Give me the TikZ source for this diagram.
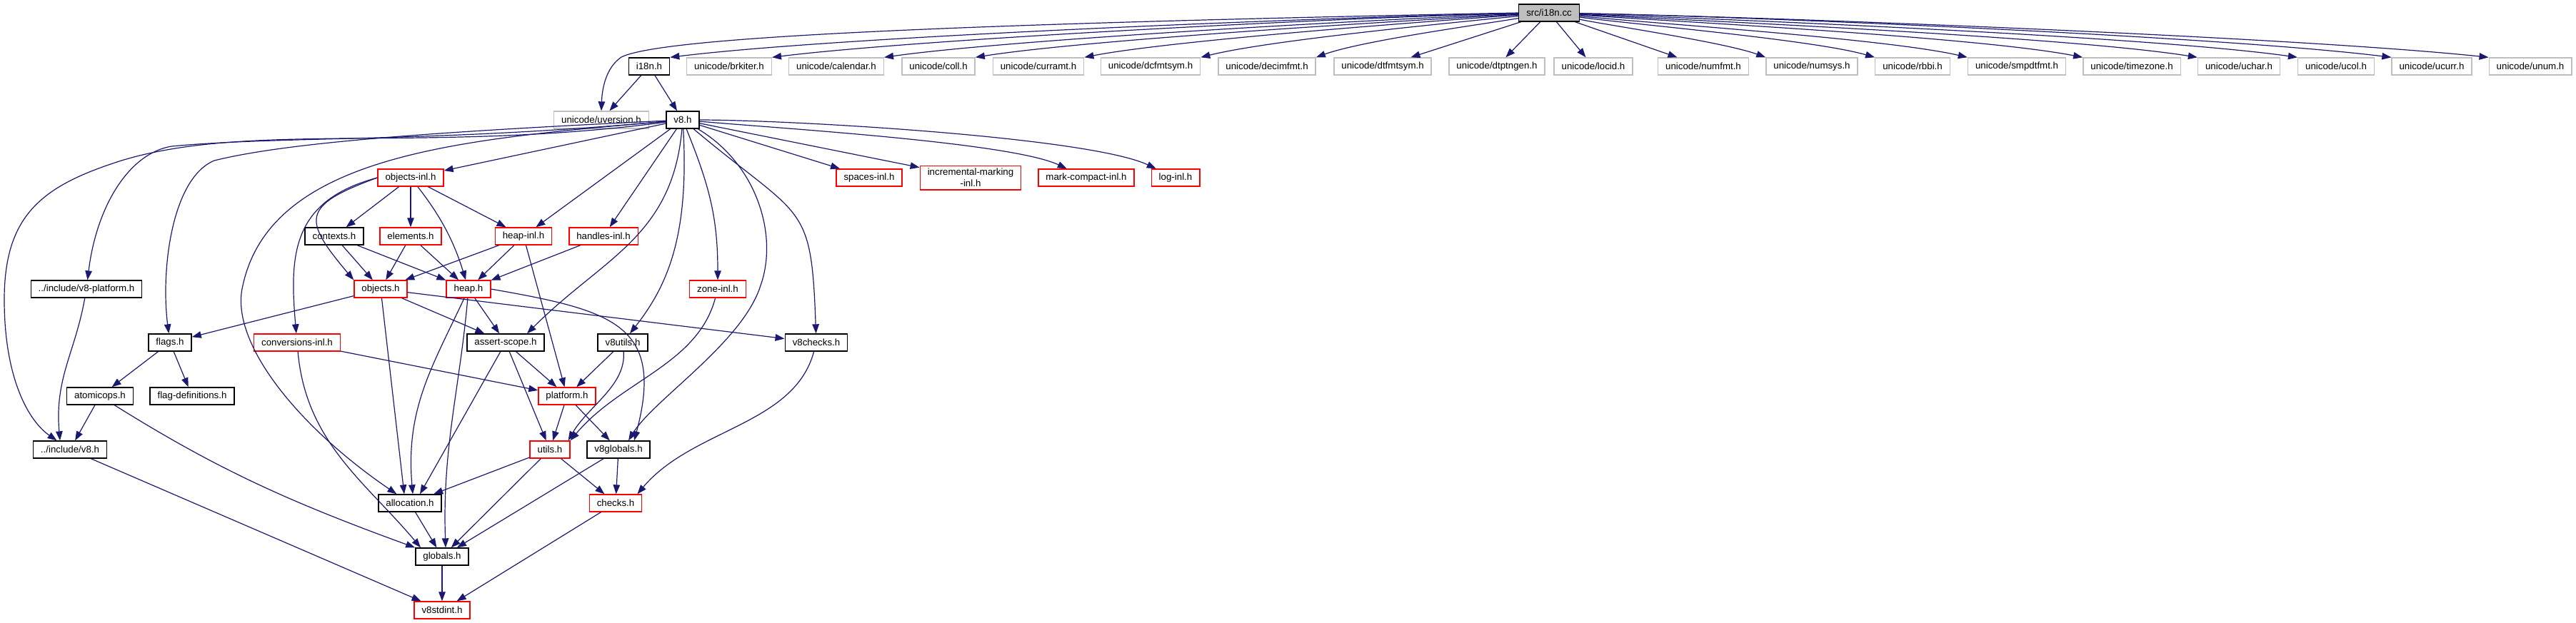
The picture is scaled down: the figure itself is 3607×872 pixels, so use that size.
\documentclass[tikz,border=0pt]{standalone}
\usepackage{fontspec}
\setmainfont{Liberation Sans}[Ligatures=NoCommon]
\usetikzlibrary{arrows.meta}
\definecolor{edgeblue}{HTML}{191970}
\definecolor{extframe}{HTML}{BFBFBF}

\begin{document}
\begin{tikzpicture}[x=0.2pt,y=0.2pt,font=\fontsize{2.66}{3.2}\selectfont,
    >={Triangle[length=2.6pt,width=1.9pt]},
    hdr/.style={draw=black,line width=0.28pt,fill=white,minimum height=4.8pt,
                inner xsep=2.1pt,inner ysep=0pt},
    hdrtrunc/.style={hdr,draw=red},
    hdrext/.style={hdr,draw=extframe},
    inc/.style={->,edgeblue,line width=0.24pt}]

\useasboundingbox (0,0) rectangle (3607,-872);

% source file and the headers it pulls in directly
\node[hdr,fill=extframe] (root) at (2169,-18) {src/i18n.cc};
\node[hdr] (i18nh) at (909,-93) {i18n.h};
\foreach \n/\x in {brkiter/1021, calendar/1171, coll/1314, curramt/1454,
    dcfmtsym/1611, decimfmt/1774, dtfmtsym/1936, dtptngen/2096, locid/2231,
    numfmt/2385, numsys/2537, rbbi/2678, smpdtfmt/2824, timezone/2985,
    uchar/3135, ucol/3271, ucurr/3405, unum/3543}
  \node[hdrext] (\n) at (\x,-93) {unicode/\n.h};

\node[hdrext] (uversion) at (842,-168) {unicode/uversion.h};
\node[hdr] (v8) at (956,-168) {v8.h};

% v8 internals
\node[hdrtrunc] (objinl) at (575,-249) {objects-inl.h};
\node[hdrtrunc] (spacesinl) at (1217,-249) {spaces-inl.h};
\node[hdrtrunc,align=center,inner ysep=0.8pt] (incmark) at (1359,-249)
    {incremental-marking\\-inl.h};
\node[hdrtrunc] (mcinl) at (1521,-249) {mark-compact-inl.h};
\node[hdrtrunc] (loginl) at (1646,-249) {log-inl.h};

\node[hdr] (contexts) at (468,-331) {contexts.h};
\node[hdrtrunc] (elements) at (575,-331) {elements.h};
\node[hdrtrunc] (heapinl) at (733,-331) {heap-inl.h};
\node[hdrtrunc] (handlesinl) at (845,-331) {handles-inl.h};

\node[hdr] (v8platform) at (121,-405) {../include/v8-platform.h};
\node[hdrtrunc] (objects) at (533,-405) {objects.h};
\node[hdrtrunc] (heap) at (656,-405) {heap.h};
\node[hdrtrunc] (zoneinl) at (1005,-405) {zone-inl.h};

\node[hdr] (flags) at (238,-480) {flags.h};
\node[hdrtrunc] (convinl) at (416,-480) {conversions-inl.h};
\node[hdr] (assertscope) at (708,-480) {assert-scope.h};
\node[hdr] (v8utils) at (872,-480) {v8utils.h};
\node[hdr] (v8checks) at (1143,-480) {v8checks.h};

\node[hdr] (atomicops) at (140,-555) {atomicops.h};
\node[hdr] (flagdefs) at (269,-555) {flag-definitions.h};
\node[hdrtrunc] (platform) at (794,-555) {platform.h};

\node[hdr] (v8inc) at (98,-630) {../include/v8.h};
\node[hdrtrunc] (utils) at (770,-630) {utils.h};
\node[hdr] (v8globals) at (866,-630) {v8globals.h};

\node[hdr] (allocation) at (574,-705) {allocation.h};
\node[hdrtrunc] (checks) at (862,-705) {checks.h};
\node[hdr] (globals) at (619,-780) {globals.h};
\node[hdrtrunc] (v8stdint) at (619,-855) {v8stdint.h};

% includes of src/i18n.cc
\foreach \n/\o/\a/\i/\b in {i18nh/181/255/7/255, brkiter/181/225/7/225,
    calendar/182/190/8/190, coll/183/165/9/165, curramt/184/130/11/130,
    dcfmtsym/186/105/14/105, decimfmt/190/80/20/70}
  \draw[inc] (root) .. controls +(\o:\a) and +(\i:\b) .. (\n.north east);
\foreach \n in {dtfmtsym,dtptngen,locid,numfmt}
  \draw[inc] (root) -- (\n);
\foreach \n/\o/\a/\i/\b in {numsys/-12/80/160/62, rbbi/-8/110/164/90,
    smpdtfmt/-6/135/167/117, timezone/-4/170/169/150, uchar/-3/205/171/185,
    ucol/-2/235/172/215, ucurr/-1/265/173/245, unum/-1/295/174/275}
  \draw[inc] (root) .. controls +(\o:\a) and +(\i:\b) .. (\n.north west);
\draw[inc] (root.west) .. controls (1250,-35) and (920,-55) .. (870,-80)
    .. controls (848,-95) and (843,-125) .. (uversion.north);

\draw[inc] (i18nh) -- (uversion);
\draw[inc] (i18nh) -- (v8);

% v8.h
\draw[inc] (v8) -- (objinl);
\draw[inc] (v8) -- (heapinl);
\draw[inc] (v8) -- (handlesinl);
\draw[inc] (v8) -- (spacesinl);
\draw[inc] (v8) -- (incmark);
\draw[inc] (v8) .. controls +(-5:140) and +(155:117) .. (mcinl);
\draw[inc] (v8) .. controls +(0:150) and +(155:135) .. (loginl);
\draw[inc] (v8) .. controls +(-40:220) and +(92:200) .. (v8checks);
\draw[inc] (v8) .. controls (1060,-230) and (1090,-330) .. (1065,-400)
    .. controls (1040,-480) and (915,-560) .. ([shift={(14,0)}]v8globals.north);
\draw[inc] (v8) .. controls +(-68:100) and +(90:100) .. (zoneinl);
\draw[inc] (v8) .. controls (965,-330) and (935,-400) .. (v8utils);
\draw[inc] (v8) .. controls +(-95:165) and +(45:150) .. ([shift={(30,0)}]assertscope.north);
\draw[inc] (v8) .. controls (650,-195) and (380,-215) .. (340,-400)
    .. controls (320,-480) and (420,-600) .. (allocation);
\draw[inc] (v8) .. controls (600,-215) and (350,-170) .. (170,-225)
    .. controls (60,-260) and (6,-300) .. (6,-420)
    .. controls (6,-530) and (40,-590) .. (v8inc);
\draw[inc] (v8) .. controls (600,-200) and (400,-190) .. (240,-205)
    .. controls (180,-215) and (135,-290) .. (v8platform);
\draw[inc] (v8) .. controls (600,-185) and (400,-200) .. (300,-225)
    .. controls (240,-250) and (225,-380) .. (flags);

% objects-inl.h and friends
\draw[inc] (objinl) -- (contexts);
\draw[inc] (objinl) -- (elements);
\draw[inc] (objinl) .. controls +(-52:69) and +(107:69) .. (heap);
\draw[inc] (objinl) -- (heapinl);
\draw[inc] (objinl.west) .. controls +(200:115) and +(130:110) .. (objects.north west);
\draw[inc] (objinl.west) .. controls +(195:124) and +(95:124) .. (convinl);

\draw[inc] (contexts) -- (objects);
\draw[inc] (contexts) -- (heap);
\draw[inc] (elements) -- (objects);
\draw[inc] (elements) -- (heap);
\draw[inc] (heapinl) -- (objects);
\draw[inc] (heapinl) -- (heap);
\draw[inc] (heapinl) -- (platform);
\draw[inc] (handlesinl) -- (heap);

\draw[inc] (objects) -- (flags);
\draw[inc] (objects) -- ([shift={(-8,0)}]allocation.north);
\draw[inc] (objects) -- (assertscope);
\draw[inc] (objects) -- (v8checks);

\draw[inc] (heap) -- (assertscope);
\draw[inc] (heap) .. controls +(-115:120) and +(95:120) .. ([shift={(4,0)}]allocation.north);
\draw[inc] (heap) .. controls +(-95:140) and +(92:140) .. ([shift={(5,0)}]globals.north);
\draw[inc] (heap.east) .. controls +(-10:170) and +(75:170) .. ([shift={(22,0)}]v8globals.north);

\draw[inc] (zoneinl) .. controls +(-105:110) and +(50:110) .. (utils.north east);
\draw[inc] (flags) -- (atomicops);
\draw[inc] (flags) -- (flagdefs);
\draw[inc] (convinl) -- (platform);
\draw[inc] (convinl) .. controls +(-85:140) and +(130:120) .. ([shift={(-30,0)}]globals.north);
\draw[inc] (assertscope) -- (platform);
\draw[inc] (assertscope) -- (utils);
\draw[inc] (assertscope) -- ([shift={(14,0)}]allocation.north);
\draw[inc] (v8utils) -- (platform);
\draw[inc] (v8utils) .. controls +(-85:60) and +(60:55) .. ([shift={(-3,0)}]utils.north east);
\draw[inc] (v8checks) .. controls +(-105:120) and +(50:120) .. ([shift={(-7,0)}]checks.north east);

\draw[inc] (atomicops) -- (v8inc);
\draw[inc] (atomicops) .. controls +(-32:191) and +(160:191) .. (globals.north west);
\draw[inc] (v8platform) .. controls +(-100:90) and +(95:88) .. ([shift={(-14,0)}]v8inc.north);
\draw[inc] (platform) -- (utils);
\draw[inc] (platform) -- (v8globals);
\draw[inc] (utils) -- (allocation);
\draw[inc] (utils) -- (globals);
\draw[inc] (utils) -- (checks);
\draw[inc] (v8globals) -- (checks);
\draw[inc] (v8globals) -- (globals);

\draw[inc] (v8inc) -- (v8stdint);
\draw[inc] (allocation) -- (globals);
\draw[inc] (globals) -- (v8stdint);
\draw[inc] (checks) -- (v8stdint);
\end{tikzpicture}
\end{document}
